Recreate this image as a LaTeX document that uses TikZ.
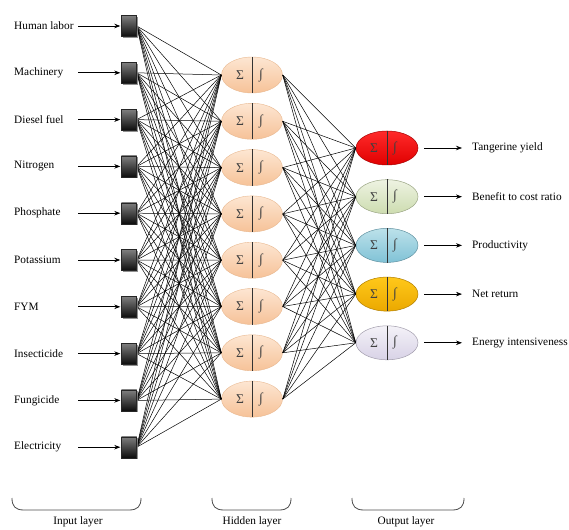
\documentclass[tikz,border=0pt]{standalone}
\usepackage{fontspec}
\setmainfont{Liberation Serif}
\usetikzlibrary{arrows.meta,shadows,shapes.geometric}
\definecolor{hidT}{HTML}{FDE6D2}
\definecolor{hidB}{HTML}{F6C298}
\definecolor{hidD}{HTML}{E8B890}
\definecolor{redT}{HTML}{FF2A2A}
\definecolor{redB}{HTML}{E00000}
\definecolor{grnT}{HTML}{EEF3E2}
\definecolor{grnB}{HTML}{CDDCB0}
\definecolor{bluT}{HTML}{BCE1EA}
\definecolor{bluB}{HTML}{80C2D6}
\definecolor{orgT}{HTML}{FFC81A}
\definecolor{orgB}{HTML}{EBA800}
\definecolor{lavT}{HTML}{F4F2F8}
\definecolor{lavB}{HTML}{D8D2E6}
\begin{document}
\begin{tikzpicture}[x=1pt,y=-1pt,
  every node/.style={font=\fontsize{11.3}{13}\selectfont},
  inbox/.style={draw=black!85, minimum width=15pt, minimum height=21pt, inner sep=0pt,
    top color=black!50, bottom color=black!95,
    drop shadow={shadow xshift=1.5pt, shadow yshift=-1.5pt, fill=black!45, opacity=0.8}},
  neuron/.style={ellipse, minimum width=61pt, minimum height=36pt, inner sep=0pt, line width=0.4pt},
  outneuron/.style={ellipse, minimum width=62pt, minimum height=34pt, inner sep=0pt, line width=0.5pt},
  link/.style={draw=black, line width=0.5pt},
  arr/.style={draw=black, line width=0.7pt, -{Stealth[length=6pt,width=4.5pt]}},
  brace/.style={draw=black!70, line width=0.8pt},
  sym/.style={text=black!75, inner sep=0pt, font=\fontsize{13.5}{15}\selectfont}
]
\useasboundingbox (0,0) rectangle (569,529);

% input layer
\foreach \t [count=\i from 0] in {Human labor,Machinery,Diesel fuel,Nitrogen,Phosphate,Potassium,FYM,Insecticide,Fungicide,Electricity}{
  \pgfmathsetmacro{\yy}{26+46.8*\i}
  \node[inbox] (in\i) at (129,\yy) {};
  \node[anchor=west, inner sep=0pt] (lab\i) at (14,\yy) {\t};
  \coordinate (ia\i) at (78,\yy);
}

% hidden layer
\foreach \j in {0,...,7}{
  \pgfmathsetmacro{\yy}{75+46.3*\j}
  \node[neuron, draw=hidD, top color=hidT, bottom color=hidB] (h\j) at (252,\yy) {};
}

% output layer
\foreach \t/\ct/\cb [count=\k from 0] in {Tangerine yield/redT/redB,Benefit to cost ratio/grnT/grnB,Productivity/bluT/bluB,Net return/orgT/orgB,Energy intensiveness/lavT/lavB}{
  \pgfmathsetmacro{\yy}{148+48.7*\k}
  \node[outneuron, draw=\cb!75!black, top color=\ct, bottom color=\cb] (o\k) at (387,\yy) {};
  \node[anchor=west, inner sep=0pt] (olab\k) at (472,\yy) {\t};
  \coordinate (oa\k) at (462,\yy);
}

% connections input -> hidden
\foreach \i in {0,...,9}{
  \foreach \j in {0,...,7}{
    \draw[link] (in\i.east) -- (h\j.west);
  }
}
% connections hidden -> output
\foreach \j in {0,...,7}{
  \foreach \k in {0,...,4}{
    \draw[link] (h\j.east) -- (o\k.west);
  }
}

% redraw inputs on top
\foreach \i in {0,...,9}{
  \node[inbox] at (in\i) {};
  \draw[arr, shorten >=1pt] (ia\i) -- (in\i.west);
}

% neuron internals
\foreach \j in {0,...,7}{
  \draw[black!80, line width=0.5pt] (h\j.north) -- (h\j.south);
  \node[sym] at ([xshift=-12pt]h\j.center) {Σ};
  \node[sym] at ([xshift=9pt]h\j.center) {∫};
}
\foreach \k in {0,...,4}{
  \draw[black!80, line width=0.5pt] (o\k.north) -- (o\k.south);
  \node[sym] at ([xshift=-13pt]o\k.center) {Σ};
  \node[sym] at ([xshift=8pt]o\k.center) {∫};
  \draw[arr, shorten <=6pt] (o\k.east) -- (oa\k);
}

% braces
\coordinate (b1a) at (12,498); \coordinate (b1b) at (141,498);
\coordinate (b2a) at (212,498); \coordinate (b2b) at (291,498);
\coordinate (b3a) at (352,498); \coordinate (b3b) at (464,498);
\draw[brace] (b1a) .. controls (12,506) and (15,510) .. (24,510) -- (129,510) .. controls (138,510) and (141,506) .. (b1b);
\draw[brace] (b2a) .. controls (212,506) and (215,510) .. (224,510) -- (279,510) .. controls (288,510) and (291,506) .. (b2b);
\draw[brace] (b3a) .. controls (352,506) and (355,510) .. (364,510) -- (452,510) .. controls (461,510) and (464,506) .. (b3b);
\node (l1) at (78,522) {Input layer};
\node (l2) at (252,522) {Hidden layer};
\node (l3) at (406,522) {Output layer};
\end{tikzpicture}
\end{document}
